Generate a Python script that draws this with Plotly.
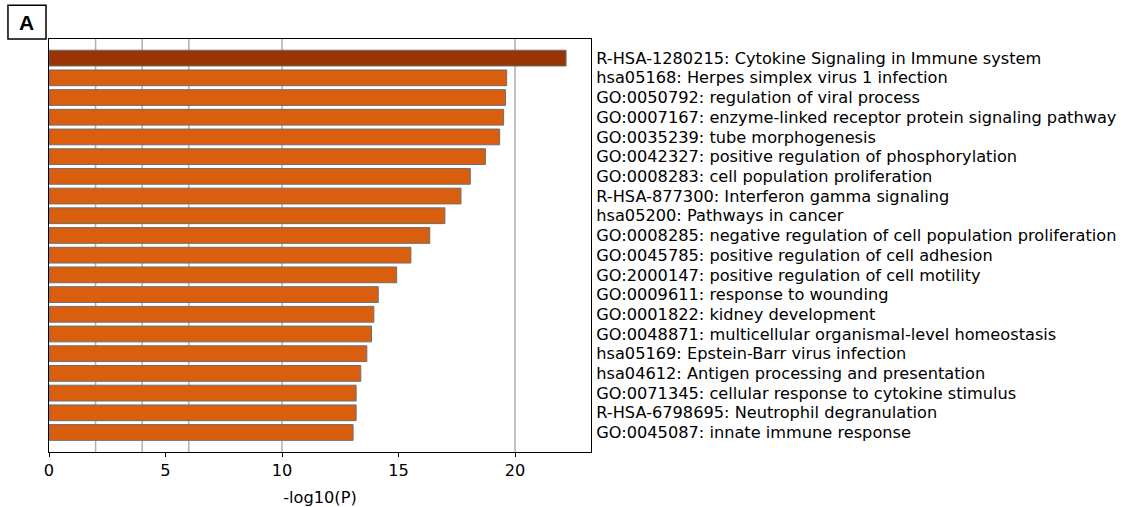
import plotly.graph_objects as go

terms = [
    "R-HSA-1280215: Cytokine Signaling in Immune system",
    "hsa05168: Herpes simplex virus 1 infection",
    "GO:0050792: regulation of viral process",
    "GO:0007167: enzyme-linked receptor protein signaling pathway",
    "GO:0035239: tube morphogenesis",
    "GO:0042327: positive regulation of phosphorylation",
    "GO:0008283: cell population proliferation",
    "R-HSA-877300: Interferon gamma signaling",
    "hsa05200: Pathways in cancer",
    "GO:0008285: negative regulation of cell population proliferation",
    "GO:0045785: positive regulation of cell adhesion",
    "GO:2000147: positive regulation of cell motility",
    "GO:0009611: response to wounding",
    "GO:0001822: kidney development",
    "GO:0048871: multicellular organismal-level homeostasis",
    "hsa05169: Epstein-Barr virus infection",
    "hsa04612: Antigen processing and presentation",
    "GO:0071345: cellular response to cytokine stimulus",
    "R-HSA-6798695: Neutrophil degranulation",
    "GO:0045087: innate immune response",
]
neglogp = [22.19, 19.64, 19.59, 19.51, 19.34, 18.73, 18.08, 17.68, 16.99, 16.34,
           15.53, 14.92, 14.13, 13.94, 13.84, 13.64, 13.38, 13.18, 13.18, 13.05]
x_ticks = [0, 5, 10, 15, 20]
grid_lines = [2, 4, 6, 10, 20]

positions = list(range(len(terms)))
colors = ["#993404"] + ["#d95f0e"] * (len(terms) - 1)

FONT = "DejaVu Sans"
FS = 16.2

fig = go.Figure()
fig.add_trace(go.Bar(
    x=neglogp, y=positions, orientation="h",
    width=0.8,
    marker=dict(color=colors, line=dict(color="#6e6e6e", width=1)),
    showlegend=False,
))

for g in grid_lines:
    fig.add_shape(type="line", xref="x", yref="paper", x0=g, x1=g, y0=0, y1=1,
                  line=dict(color="#b0b0b0", width=1.5), layer="below")

# panel label box
fig.add_shape(type="rect", xref="paper", yref="paper",
              x0=-0.0757, x1=-0.0055, y0=1.0, y1=1.082,
              line=dict(color="black", width=1.5), fillcolor="white")
fig.add_annotation(text="<b>A</b>", xref="paper", yref="paper",
                   x=-0.0406, y=1.041, xanchor="center", yanchor="middle",
                   showarrow=False,
                   font=dict(family="Liberation Sans", size=21, color="black"))

fig.update_layout(
    width=1127, height=507,
    margin=dict(l=49, r=536, t=39, b=55, autoexpand=False),
    paper_bgcolor="white", plot_bgcolor="white",
    font=dict(family=FONT, size=FS, color="black"),
    bargap=0.2,
)
fig.update_xaxes(
    range=[0, 23.26], tickvals=x_ticks, ticktext=[str(v) for v in x_ticks],
    ticks="outside", ticklen=4, tickwidth=1, tickcolor="black",
    showline=True, linecolor="black", linewidth=1, mirror=True,
    showgrid=False, zeroline=False, automargin=False,
    tickfont=dict(family=FONT, size=FS, color="black"),
    title=dict(text="-log10(P)", font=dict(family=FONT, size=FS, color="black"), standoff=14),
)
fig.update_yaxes(
    range=[19.99, -0.97], tickvals=positions, ticktext=terms, side="right",
    ticks="", showline=True, linecolor="black", linewidth=1, mirror=True,
    showgrid=False, zeroline=False, ticklabelstandoff=1, automargin=False,
    tickfont=dict(family=FONT, size=FS, color="black"),
)

fig.write_html("out.html", config={"displayModeBar": False},
               post_script="document.body.style.margin='0';")
